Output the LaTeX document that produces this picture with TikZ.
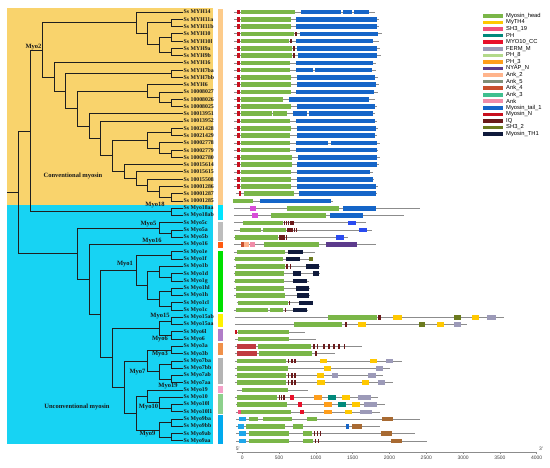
\documentclass[tikz,border=0pt]{standalone}
\usepackage{fontspec}
\setmainfont{Liberation Serif}
\newfontfamily\legfont{Liberation Sans}
\usetikzlibrary{calc}
\definecolor{bgY}{HTML}{F9D36C}
\definecolor{bgC}{HTML}{17D3F3}
\definecolor{cHead}{HTML}{7AB648}
\definecolor{cMyTH}{HTML}{FFC800}
\definecolor{cSHn}{HTML}{F0507A}
\definecolor{cPH}{HTML}{00897B}
\definecolor{cCC}{HTML}{E8102A}
\definecolor{cFERM}{HTML}{9C9AB8}
\definecolor{cPHe}{HTML}{B2D98A}
\definecolor{cPHt}{HTML}{FF9E1B}
\definecolor{cNYAP}{HTML}{5C3B8C}
\definecolor{cAnkB}{HTML}{FFB48C}
\definecolor{cAnkE}{HTML}{7F8F78}
\definecolor{cAnkD}{HTML}{C8502D}
\definecolor{cAnkC}{HTML}{3FBF8F}
\definecolor{cAnk}{HTML}{F08CA8}
\definecolor{cTail}{HTML}{1565C8}
\definecolor{cMN}{HTML}{C8101E}
\definecolor{cIQ}{HTML}{6B1A1A}
\definecolor{cSHb}{HTML}{6B7A1E}
\definecolor{cTH}{HTML}{0F1A3C}
\definecolor{cPDZ}{HTML}{D84CD8}
\definecolor{cDil}{HTML}{2A4BF0}
\definecolor{cLB}{HTML}{1EA6EA}
\definecolor{cBrown}{HTML}{A86A32}
\definecolor{cKin}{HTML}{C03A40}
\definecolor{sConv}{HTML}{FDCB8A}
\definecolor{s18}{HTML}{00E5FF}
\definecolor{s5}{HTML}{BDBDBD}
\definecolor{s16}{HTML}{FF5A10}
\definecolor{s1}{HTML}{00E000}
\definecolor{s15}{HTML}{FFF200}
\definecolor{s6}{HTML}{B07CC8}
\definecolor{s3}{HTML}{F0904A}
\definecolor{s7}{HTML}{B4B4B4}
\definecolor{s19}{HTML}{F4A0C8}
\definecolor{s10}{HTML}{8CD08C}
\definecolor{s9}{HTML}{00AAEE}
\newcommand\tc[3]{\coordinate (#1) at ({183-#2*11.73},{12+#3*7.27});}
\newcommand\br[2]{\draw[treeline] (#1) |- (#2);}
\newcommand\rl[3]{\draw[rowline] (#2,{12+#1*7.27}) -- (#3,{12+#1*7.27});}
\newcommand\dm[4]{\fill[#1] (#3,{12+#2*7.27-2.3}) rectangle (#4,{12+#2*7.27+2.3});}
\newcommand\conv[5]{\rl{#1}{234}{#5}\dm{cMN}{#1}{237.3}{239.7}\dm{cHead}{#1}{240.7}{#2}\dm{cTail}{#1}{#3}{#4}}
\begin{document}
\begin{tikzpicture}[x=1pt,y=-1pt,
  treeline/.style={draw=black!88,line width=0.9pt},
  rowline/.style={draw=black!45,line width=0.7pt},
  leaf/.style={anchor=west,inner sep=0.5pt,text=black!90,font=\bfseries\fontsize{5.8}{6}\selectfont},
  clade/.style={inner sep=0pt,text=black!90,font=\bfseries\fontsize{6.5}{7}\selectfont},
  leg/.style={anchor=west,inner sep=0pt,font=\legfont\fontsize{5.8}{6}\selectfont},
  tick/.style={inner sep=0pt,text=black!75,font=\legfont\fontsize{5}{6}\selectfont}]
\useasboundingbox (0,0) rectangle (550,467);
% backgrounds
\fill[bgY] (7,8) rectangle (213,204.6);
\fill[bgC] (7,204.6) rectangle (213,444);
% colour strips
\fill[sConv] (218,9) rectangle (222.5,204.5);
\fill[s18] (218,205) rectangle (222.5,219.5);
\fill[s5] (218,221.5) rectangle (222.5,241);
\fill[s16] (218,242) rectangle (222.5,247.8);
\fill[s1] (218,250.5) rectangle (222.5,312);
\fill[s15] (218,314) rectangle (222.5,327);
\fill[s6] (218,328.5) rectangle (222.5,341);
\fill[s3] (218,343) rectangle (222.5,355);
\fill[s7] (218,357.5) rectangle (222.5,383.5);
\fill[s19] (218,385.7) rectangle (222.5,392.5);
\fill[s10] (218,394.3) rectangle (222.5,413.5);
\fill[s9] (218,415) rectangle (222.5,443.5);
% leaves
\foreach \n/\t in {0/MYH14,1/MYH11a,2/MYH11b,3/MYH10,4/MYH10l,5/MYH9a,6/MYH9b,7/MYH16,8/MYH7ba,9/MYH7bb,10/MYH6,11/10008027,12/10008026,13/10008025,14/10013951,15/10013952,16/10021428,17/10021429,18/10002778,19/10002779,20/10002780,21/10015614,22/10015615,23/10015508,24/10001286,25/10001287,26/10001285,27/Myo18aa,28/Myo18ab,29/Myo5c,30/Myo5a,31/Myo5b,32/Myo16,33/Myo1e,34/Myo1f,35/Myo1b,36/Myo1d,37/Myo1g,38/Myo1hl,39/Myo1h,40/Myo1cl,41/Myo1c,42/Myo15ab,43/Myo15aa,44/Myo6l,45/Myo6,46/Myo3a,47/Myo3b,48/Myo7ba,49/Myo7bb,50/Myo7ab,51/Myo7aa,52/Myo19,53/Myo10,54/Myo10l,55/Myo10l1,56/Myo9ba,57/Myo9bb,58/Myo9ab,59/Myo9aa}
  {\node[leaf] (L\n) at (183,{12+\n*7.27}) {Ss \t};}
% tree nodes: conventional
\tc{n11}{1}{1.5}\tc{n10}{1}{3.5}\tc{n9}{1}{5.5}\tc{n109}{2}{4.5}\tc{n1196}{3}{3}\tc{nTop}{4}{1.5}
\tc{n7b}{1}{8.5}\tc{n826}{1}{12.5}\tc{nW}{2}{11.75}\tc{n6}{3}{10.875}
\tc{ca}{1}{25.5}\tc{cb}{2}{24.75}\tc{cc}{3}{23.875}\tc{cd}{4}{22.9375}\tc{ce}{5}{21.96875}
\tc{cf}{1}{16.5}\tc{cg}{1}{19.5}\tc{ch}{2}{18.75}\tc{ci}{3}{17.625}\tc{cj}{6}{19.796875}
\tc{ck}{7}{17.3984375}\tc{cl}{8}{15.69921875}\tc{cZ}{9}{13.287109375}\tc{cY}{10}{10.8935546875}
\tc{cX}{11}{8.94677734375}\tc{myo2}{12}{5.223388671875}\tc{n18}{1}{27.5}\tc{N13}{13}{16.3616943359375}
% unconventional
\tc{n5ab}{1}{30.5}\tc{myo5}{2}{29.75}\tc{n1ef}{1}{33.5}\tc{n1dg}{1}{36.5}\tc{n1b}{2}{35.75}
\tc{n1h}{1}{38.5}\tc{n1c}{1}{40.5}\tc{n1hc}{2}{39.5}\tc{n1bh}{3}{37.625}\tc{myo1}{4}{35.5625}
\tc{n15}{1}{42.5}\tc{n6u}{1}{44.5}\tc{uP}{2}{43.5}\tc{myo3}{1}{46.5}\tc{n7b2}{1}{48.5}\tc{n7a}{1}{50.5}
\tc{myo7}{2}{49.5}\tc{uS}{3}{48}\tc{n10l}{1}{54.5}\tc{myo10}{2}{53.75}\tc{myo19}{3}{52.875}
\tc{n9b}{1}{56.5}\tc{n9a}{1}{58.5}\tc{myo9}{2}{57.5}\tc{uT}{4}{55.1875}\tc{uR}{5}{51.59375}
\tc{uQ}{6}{47.546875}\tc{uW}{7}{41.5546875}\tc{uV}{8}{36.77734375}\tc{uU}{9}{33.263671875}
\tc{R14}{14}{24.8126831}
\coordinate (root) at (7,{12+24.8126831*7.27});
% branches
\br{n11}{L1.west}\br{n11}{L2.west}\br{n10}{L3.west}\br{n10}{L4.west}\br{n9}{L5.west}\br{n9}{L6.west}
\br{n109}{n10}\br{n109}{n9}\br{n1196}{n11}\br{n1196}{n109}\br{nTop}{L0.west}\br{nTop}{n1196}
\br{n7b}{L8.west}\br{n7b}{L9.west}\br{n826}{L12.west}\br{n826}{L13.west}
\br{nW}{L11.west}\br{nW}{n826}\br{n6}{L10.west}\br{n6}{nW}
\br{ca}{L25.west}\br{ca}{L26.west}\br{cb}{L24.west}\br{cb}{ca}\br{cc}{L23.west}\br{cc}{cb}
\br{cd}{L22.west}\br{cd}{cc}\br{ce}{L21.west}\br{ce}{cd}
\br{cf}{L16.west}\br{cf}{L17.west}\br{cg}{L19.west}\br{cg}{L20.west}\br{ch}{L18.west}\br{ch}{cg}
\br{ci}{cf}\br{ci}{ch}\br{cj}{ci}\br{cj}{ce}\br{ck}{L15.west}\br{ck}{cj}\br{cl}{L14.west}\br{cl}{ck}
\br{cZ}{n6}\br{cZ}{cl}\br{cY}{n7b}\br{cY}{cZ}\br{cX}{L7.west}\br{cX}{cY}
\br{myo2}{nTop}\br{myo2}{cX}\br{n18}{L27.west}\br{n18}{L28.west}\br{N13}{myo2}\br{N13}{n18}
\br{n5ab}{L30.west}\br{n5ab}{L31.west}\br{myo5}{L29.west}\br{myo5}{n5ab}
\br{n1ef}{L33.west}\br{n1ef}{L34.west}\br{n1dg}{L36.west}\br{n1dg}{L37.west}
\br{n1b}{L35.west}\br{n1b}{n1dg}\br{n1h}{L38.west}\br{n1h}{L39.west}\br{n1c}{L40.west}\br{n1c}{L41.west}
\br{n1hc}{n1h}\br{n1hc}{n1c}\br{n1bh}{n1b}\br{n1bh}{n1hc}\br{myo1}{n1ef}\br{myo1}{n1bh}
\br{n15}{L42.west}\br{n15}{L43.west}\br{n6u}{L44.west}\br{n6u}{L45.west}\br{uP}{n15}\br{uP}{n6u}
\br{myo3}{L46.west}\br{myo3}{L47.west}\br{n7b2}{L48.west}\br{n7b2}{L49.west}
\br{n7a}{L50.west}\br{n7a}{L51.west}\br{myo7}{n7b2}\br{myo7}{n7a}\br{uS}{myo3}\br{uS}{myo7}
\br{n10l}{L54.west}\br{n10l}{L55.west}\br{myo10}{L53.west}\br{myo10}{n10l}
\br{myo19}{L52.west}\br{myo19}{myo10}\br{n9b}{L56.west}\br{n9b}{L57.west}
\br{n9a}{L58.west}\br{n9a}{L59.west}\br{myo9}{n9b}\br{myo9}{n9a}
\br{uT}{myo19}\br{uT}{myo9}\br{uR}{uS}\br{uR}{uT}\br{uQ}{uP}\br{uQ}{uR}
\br{uW}{myo1}\br{uW}{uQ}\br{uV}{L32.west}\br{uV}{uW}\br{uU}{myo5}\br{uU}{uV}
\br{R14}{N13}\br{R14}{uU}
\draw[treeline] (root) -- (R14);
% clade labels
\node[clade] (tMyo2) at (33.5,47) {Myo2};
\node[clade] (tConv) at (73,176) {Conventional myosin};
\node[clade] (tUnc) at (77,407) {Unconventional myosin};
\node[clade] (tM18) at (155,205.5) {Myo18};
\node[clade] (tM5) at (148.5,224.5) {Myo5};
\node[clade] (tM16) at (152,241) {Myo16};
\node[clade] (tM1) at (125,264.5) {Myo1};
\node[clade] (tM15) at (160,316) {Myo15};
\node[clade] (tM6) at (160,339.5) {Myo6};
\node[clade] (tM3) at (160,354.5) {Myo3};
\node[clade] (tM7) at (137.5,372.5) {Myo7};
\node[clade] (tM19) at (168,386) {Myo19};
\node[clade] (tM10) at (148.5,407) {Myo10};
\node[clade] (tM9) at (147.5,434.5) {Myo9};
% domain rows: conventional
\conv{0}{295}{300.7}{341}{375}\dm{cTail}{0}{342.7}{352.3}\dm{cTail}{0}{354.3}{369.3}
\conv{1}{290.7}{296}{376.7}{379}
\conv{2}{290.7}{296}{376.7}{379}
\conv{3}{294}{300}{378}{381.7}\dm{cIQ}{3}{295.3}{297.3}
\conv{4}{289}{296}{372.7}{379}\dm{cIQ}{4}{290.3}{292.3}
\conv{5}{292}{297.3}{376.7}{380}\dm{cIQ}{5}{292.8}{294.8}
\conv{6}{292}{298}{377.3}{381}\dm{cIQ}{6}{293}{295}
\conv{7}{290}{296}{373.3}{376}
\conv{8}{290}{296}{313.3}{376}\dm{cTail}{8}{315}{372}
\conv{9}{290.7}{296.7}{375.3}{378}
\conv{10}{290.7}{296.7}{376}{379}
\conv{11}{290.7}{296}{374}{378}
\conv{12}{283.3}{289.3}{369.3}{375}
\conv{13}{291.3}{296.7}{375.3}{377}
\conv{14}{272.3}{293.3}{306.7}{375}\dm{cHead}{14}{273.3}{287}\dm{cTail}{14}{309.3}{372.7}
\conv{15}{290}{296}{375}{377}
\conv{16}{291}{296.7}{376}{378}
\conv{17}{290}{296.7}{375}{377}
\conv{18}{290}{296}{328.3}{380}\dm{cTail}{18}{330.7}{376.7}
\conv{19}{290}{296}{376.7}{378}
\conv{20}{292.3}{298.3}{377.3}{380}
\conv{21}{291.7}{297.3}{376.7}{379}
\conv{22}{290.7}{296.7}{370}{373}
\conv{23}{290.7}{296.7}{372.7}{374}
\conv{24}{290.7}{296.7}{376}{378}
\rl{25}{236}{377}\dm{cMN}{25}{238.5}{241}\dm{cHead}{25}{244}{294}\dm{cTail}{25}{299.3}{376}
\rl{26}{233}{333}\dm{cHead}{26}{233}{253}\dm{cTail}{26}{260}{331}
% unconventional rows
\rl{27}{234}{420}\dm{cPDZ}{27}{250}{256}\dm{cHead}{27}{286.7}{339}\dm{cTail}{27}{342.7}{375.7}
\rl{28}{234}{404}\dm{cPDZ}{28}{251.7}{257.7}\dm{cHead}{28}{271}{326}\dm{cTail}{28}{330}{363.3}
\rl{29}{234}{366}\dm{cHead}{29}{242.7}{282.7}\foreach \a in {283.5,285.7,287.9,290.1,292.3}{\dm{cIQ}{29}{\a}{\a+1.5}}\dm{cDil}{29}{348.3}{356}
\rl{30}{234}{372}\dm{cHead}{30}{240}{260.7}\dm{cHead}{30}{262.7}{286}\foreach \a in {287,289.2,291.4,293.6,295.8}{\dm{cIQ}{30}{\a}{\a+1.5}}\dm{cDil}{30}{359.3}{366.7}
\rl{31}{234}{348.3}\dm{cHead}{31}{235}{278.3}\foreach \a in {279,281.2,283.4,285.6}{\dm{cIQ}{31}{\a}{\a+1.5}}\dm{cDil}{31}{336}{344}
\rl{32}{234}{375.7}\dm{cAnkD}{32}{240.5}{243.5}\dm{cAnkB}{32}{243.5}{249}\dm{cAnk}{32}{249.5}{255}\dm{cHead}{32}{264.3}{319}\dm{cNYAP}{32}{326}{356.7}
\rl{33}{234}{315}\dm{cHead}{33}{236.7}{285}\dm{cTH}{33}{288.3}{303.3}
\rl{34}{234}{313.3}\dm{cHead}{34}{235}{283.3}\dm{cTH}{34}{285.7}{300}\dm{cSHb}{34}{309.3}{312.7}
\rl{35}{234}{320}\dm{cHead}{35}{236}{285}\dm{cIQ}{35}{286.3}{287.7}\dm{cIQ}{35}{289.5}{290.9}\dm{cTH}{35}{306}{319.3}
\rl{36}{234}{320}\dm{cHead}{36}{235}{284}\dm{cTH}{36}{292.7}{300.7}\dm{cTH}{36}{313.3}{319.3}
\rl{37}{234}{309.3}\dm{cHead}{37}{235}{284}\dm{cTH}{37}{293.3}{307.3}
\rl{38}{234}{310}\dm{cHead}{38}{236}{284}\dm{cTH}{38}{296}{308.7}
\rl{39}{234}{310}\dm{cHead}{39}{236}{285}\dm{cTH}{39}{296.7}{309.3}
\rl{40}{236.7}{313}\dm{cHead}{40}{238.3}{287.7}\dm{cIQ}{40}{289}{290.4}\dm{cTH}{40}{299.3}{312.7}
\rl{41}{234}{308}\dm{cHead}{41}{236}{268.3}\dm{cHead}{41}{270}{283}\dm{cIQ}{41}{284.5}{286}\dm{cTH}{41}{293.3}{306.7}
\rl{42}{235}{504}\dm{cHead}{42}{328.3}{376.7}\dm{cIQ}{42}{378.3}{381}\dm{cMyTH}{42}{393.3}{401.7}\dm{cSHb}{42}{454}{460.7}\dm{cMyTH}{42}{472}{479.3}\dm{cFERM}{42}{487.3}{495.7}
\rl{43}{235}{466.7}\dm{cHead}{43}{294}{342.3}\dm{cIQ}{43}{345}{346.7}\dm{cMyTH}{43}{358.3}{366}\dm{cSHb}{43}{419.3}{425}\dm{cMyTH}{43}{436.7}{444.3}\dm{cFERM}{43}{454}{460.7}
\rl{44}{235}{305}\dm{cMN}{44}{235}{237.3}\dm{cHead}{44}{238.3}{289.3}
\rl{45}{235}{316}\dm{cHead}{45}{238.3}{289.3}
\rl{46}{235}{361.7}\dm{cKin}{46}{237.3}{256}\dm{cHead}{46}{257.7}{310.7}\foreach \a in {313.3,316.7,323.3,328.3,333.3,338.3,344}{\dm{cIQ}{46}{\a}{\a+1.4}}
\rl{47}{235}{335}\dm{cKin}{47}{236.7}{256.7}\dm{cHead}{47}{259.3}{311.7}\dm{cIQ}{47}{315}{316.5}
\rl{48}{235}{401.7}\dm{cHead}{48}{236.7}{286}\foreach \a in {287.5,291,294.2}{\dm{cIQ}{48}{\a}{\a+1.5}}\dm{cMyTH}{48}{320}{326.7}\dm{cMyTH}{48}{370}{377.3}\dm{cFERM}{48}{386}{393.3}
\rl{49}{235}{390}\dm{cHead}{49}{237.3}{287.7}\dm{cMyTH}{49}{324}{331}\dm{cFERM}{49}{376}{383.3}
\rl{50}{235}{383}\dm{cHead}{50}{237.3}{286}\foreach \a in {287.5,291,294.2}{\dm{cIQ}{50}{\a}{\a+1.5}}\dm{cMyTH}{50}{317.3}{324.3}\dm{cFERM}{50}{332.3}{338.3}\dm{cFERM}{50}{368.3}{375.7}
\rl{51}{235}{392.7}\dm{cHead}{51}{237.3}{286}\foreach \a in {287.5,291,294.2}{\dm{cIQ}{51}{\a}{\a+1.5}}\dm{cMyTH}{51}{317.3}{325}\dm{cMyTH}{51}{361.7}{369.3}\dm{cFERM}{51}{378.3}{385}
\rl{52}{236.7}{308.3}\dm{cHead}{52}{241.7}{288.3}
\rl{53}{235}{378.3}\dm{cHead}{53}{236.7}{276.7}\foreach \a in {278.5,280.9,283.3}{\dm{cIQ}{53}{\a}{\a+1.4}}\dm{cCC}{53}{290}{294}\dm{cPHt}{53}{314.3}{321.7}\dm{cPH}{53}{328.3}{335.7}\dm{cMyTH}{53}{342.3}{350}\dm{cFERM}{53}{357.7}{370.7}
\rl{54}{236}{385}\dm{cHead}{54}{237.3}{287.3}\dm{cCC}{54}{298.3}{301.7}\dm{cPHt}{54}{324.3}{331.7}\dm{cPH}{54}{337.7}{345.7}\dm{cMyTH}{54}{351.7}{360}\dm{cFERM}{54}{364}{377.3}
\rl{55}{236}{380}\dm{cSHn}{55}{237.7}{240.7}\dm{cHead}{55}{240.7}{290.7}\dm{cCC}{55}{300}{304}\dm{cPHt}{55}{324.3}{331.7}\dm{cMyTH}{55}{345}{352.3}\dm{cFERM}{55}{360}{372.3}
\rl{56}{236}{420}\dm{cLB}{56}{239}{245.7}\dm{cHead}{56}{249}{258.3}\dm{cHead}{56}{262.7}{291.7}\dm{cHead}{56}{306.7}{316.7}\dm{cBrown}{56}{381.7}{392.7}
\rl{57}{236}{380}\dm{cLB}{57}{238.3}{244.3}\dm{cHead}{57}{246}{285}\dm{cHead}{57}{293.3}{303.3}\dm{cTail}{57}{345.7}{349}\dm{cBrown}{57}{351.7}{362.3}
\rl{58}{236}{415}\dm{cLB}{58}{239}{245.7}\dm{cHead}{58}{249.3}{289.3}\dm{cHead}{58}{303.3}{312.3}\foreach \a in {313.5,316.5,319.5}{\dm{cIQ}{58}{\a}{\a+1.4}}\dm{cBrown}{58}{380.7}{391.7}
\rl{59}{236}{426.7}\dm{cLB}{59}{239}{245.7}\dm{cHead}{59}{249.3}{289.3}\dm{cHead}{59}{303.3}{312.7}\foreach \a in {315,318}{\dm{cIQ}{59}{\a}{\a+1.4}}\dm{cBrown}{59}{390.7}{401.7}
% axis
\draw[rowline] (236.5,452.5) -- (537,452.5);
\foreach \v [count=\k from 0] in {0,500,1000,1500,2000,2500,3000,3500,4000}
  {\draw[rowline] ({242.3+\k*36.8},452.5) -- ({242.3+\k*36.8},454);
   \node[tick] (ax\k) at ({242.3+\k*36.8},457.8) {\v};}
\node[tick] (five) at (237.8,448.8) {5'};
\node[tick] (three) at (541,448.6) {3'};
% legend
\foreach \c/\t [count=\i from 0] in {cHead/Myosin\_head,cMyTH/MyTH4,cSHn/SH3\_19,cPH/PH,cCC/MYO10\_CC,cFERM/FERM\_M,cPHe/PH\_8,cPHt/PH\_3,cNYAP/NYAP\_N,cAnkB/Ank\_2,cAnkE/Ank\_5,cAnkD/Ank\_4,cAnkC/Ank\_3,cAnk/Ank,cTail/Myosin\_tail\_1,cMN/Myosin\_N,cIQ/IQ,cSHb/SH3\_2,cTH/Myosin\_TH1}
  {\fill[\c] (483,{16+\i*6.56-1.8}) rectangle (503,{16+\i*6.56+1.8});
   \node[leg] (lg\i) at (506,{16+\i*6.56}) {\t};}
\end{tikzpicture}
\end{document}
